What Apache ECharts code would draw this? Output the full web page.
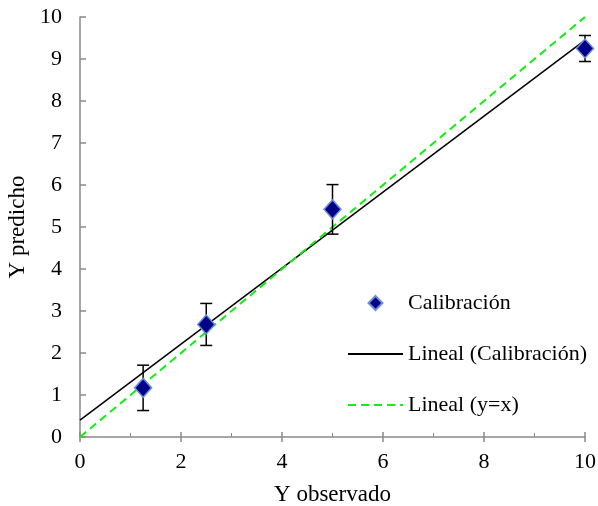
<!DOCTYPE html>
<html>
<head>
<meta charset="utf-8">
<script src="https://cdn.jsdelivr.net/npm/echarts@6/dist/echarts.min.js"></script>
<style>html,body{margin:0;padding:0;background:#fff;}#c{width:598px;height:506px;}</style>
</head>
<body>
<div id="c"></div>
<script>
var xObs = [1.25, 2.5, 5, 10];
var yPred = [1.17, 2.68, 5.42, 9.25];
var yErr = [0.54, 0.50, 0.59, 0.31];
var fitLine = [[0, 0.40], [10, 9.45]];
var idLine = [[0, 0], [10, 10]];
var seriesNames = ['Calibración', 'Lineal (Calibración)', 'Lineal (y=x)'];

var FONT = '"Liberation Serif", "Times New Roman", serif';
var pts = xObs.map(function (x, i) { return [x, yPred[i]]; });
var errs = xObs.map(function (x, i) { return [x, yPred[i] - yErr[i], yPred[i] + yErr[i]]; });
var axisGray = '#898989';
var hiddenIcon = { color: 'rgba(0,0,0,0)', borderColor: 'rgba(0,0,0,0)', borderWidth: 0 };

var chart = echarts.init(document.getElementById('c'));
chart.setOption({
  animation: false,
  backgroundColor: '#fff',
  grid: { left: 80, right: 13, top: 17, bottom: 69, containLabel: false, outerBoundsMode: 'none' },
  legend: {
    orient: 'vertical',
    left: 347, top: 292, padding: 0,
    itemWidth: 55, itemHeight: 14, itemGap: 29,
    textStyle: { fontFamily: FONT, fontSize: 22, color: '#000' },
    data: [
      { name: seriesNames[0], icon: 'path://M0,-1L1,0L0,1L-1,0Z' },
      { name: seriesNames[1], itemStyle: hiddenIcon },
      { name: seriesNames[2], itemStyle: hiddenIcon }
    ]
  },
  xAxis: [{
    type: 'value', min: 0, max: 10, interval: 2,
    name: 'Y observado', nameLocation: 'middle', nameGap: 46,
    nameTextStyle: { fontFamily: FONT, fontSize: 23, color: '#000' },
    axisLine: { onZero: false, lineStyle: { color: axisGray, width: 1.5 } },
    axisTick: { show: true, inside: true, length: 5, lineStyle: { color: axisGray, width: 1.5 } },
    minorTick: { show: true, splitNumber: 2, length: 4, lineStyle: { color: axisGray, width: 1 } },
    axisLabel: { fontFamily: FONT, fontSize: 22, color: '#000', margin: 14 },
    splitLine: { show: false }
  }, {
    type: 'value', min: 0, max: 10, interval: 2, position: 'bottom',
    axisLine: { show: false },
    axisTick: { show: true, inside: false, length: 5, lineStyle: { color: axisGray, width: 1.5 } },
    axisLabel: { show: false },
    splitLine: { show: false }
  }],
  yAxis: {
    type: 'value', min: 0, max: 10, interval: 1,
    name: 'Y predicho', nameLocation: 'middle', nameGap: 44, nameRotate: 90,
    nameTextStyle: { fontFamily: FONT, fontSize: 23, color: '#000' },
    axisLine: { show: true, onZero: false, lineStyle: { color: axisGray, width: 1.5 } },
    axisTick: { show: true, inside: true, length: 6, lineStyle: { color: axisGray, width: 1.5 } },
    axisLabel: { fontFamily: FONT, fontSize: 22, color: '#000', margin: 18 },
    splitLine: { show: false }
  },
  series: [{
    name: seriesNames[1], type: 'line', data: fitLine, symbol: 'none', z: 2,
    lineStyle: { color: '#000', width: 1.5 }, itemStyle: { color: '#000' }
  }, {
    name: seriesNames[2], type: 'line', data: idLine, symbol: 'none', z: 2,
    lineStyle: { color: '#11ee11', width: 2, type: [8, 5] }, itemStyle: { color: '#11ee11' }
  }, {
    type: 'custom', z: 3, data: errs,
    renderItem: function (params, api) {
      var x = api.value(0);
      var lo = api.coord([x, api.value(1)]);
      var hi = api.coord([x, api.value(2)]);
      var w = 6;
      var st = { stroke: '#000', lineWidth: 1.5 };
      return { type: 'group', children: [
        { type: 'line', shape: { x1: lo[0], y1: lo[1], x2: hi[0], y2: hi[1] }, style: st },
        { type: 'line', shape: { x1: lo[0] - w, y1: lo[1], x2: lo[0] + w, y2: lo[1] }, style: st },
        { type: 'line', shape: { x1: hi[0] - w, y1: hi[1], x2: hi[0] + w, y2: hi[1] }, style: st }
      ]};
    }
  }, {
    name: seriesNames[0], type: 'scatter', data: pts, z: 5,
    symbol: 'diamond', symbolSize: [17, 19],
    itemStyle: { color: '#000088', borderColor: '#6b8fd6', borderWidth: 1.5, opacity: 1 }
  }]
});
</script>
</body>
</html>
